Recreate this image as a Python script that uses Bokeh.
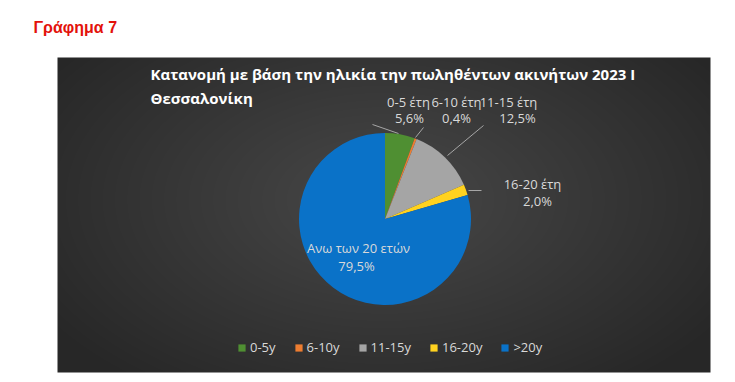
import numpy as np
from bokeh.plotting import figure
from bokeh.models import ColumnDataSource, Legend, LegendItem, Range1d
from bokeh.core.properties import value
from bokeh.embed import file_html
from bokeh.resources import INLINE

# ---- data ----
categories = ["0-5y", "6-10y", "11-15y", "16-20y", ">20y"]
label_names = ["0-5 έτη", "6-10 έτη", "11-15 έτη", "16-20 έτη", "Ανω των 20 ετών"]
shares = [5.6, 0.4, 12.5, 2.0, 79.5]
colors = ["#4f8f32", "#ed7d31", "#a5a5a5", "#ffd21f", "#0a72c8"]
page_title = "Γράφημα 7"
chart_title = ["Κατανομή με βάση την ηλικία την πωληθέντων ακινήτων 2023 Ι", "Θεσσαλονίκη"]

W, H = 735, 382


def X(px):
    return px


def Y(py):
    return H - py


p = figure(width=W, height=H, output_backend="svg", toolbar_location=None,
           x_range=Range1d(0, W), y_range=Range1d(0, H), min_border=0,
           background_fill_color="white", border_fill_color="white", outline_line_color=None)
p.axis.visible = False
p.grid.visible = False

# dark chart area with radial gradient
bx0, by0, bx1, by1 = 57, 57, 710, 372
bw, bh = bx1 - bx0, by1 - by0
yy, xx = np.mgrid[0:bh, 0:bw]
cx, cy = bw * 0.5, bh * 0.45
d = np.sqrt(((xx - cx) / (bw * 0.62)) ** 2 + ((yy - cy) / (bh * 0.75)) ** 2)
d = np.clip(d, 0, 1)
c0, c1 = 0x48, 0x27
g = (c0 + (c1 - c0) * d).astype(np.uint32)
img = (255 << 24) | (g << 16) | (g << 8) | g
img = img[::-1].astype(np.uint32)
p.image_rgba(image=[img.view(np.uint32)], x=X(bx0), y=Y(by1), dw=bw, dh=bh)

# page title
p.text(x=[X(33)], y=[Y(27)], text=[page_title], text_color="#e3120b",
       text_font=value("Liberation Sans"), text_font_style="bold",
       text_font_size="16px", text_baseline="middle", text_align="left")

# chart title
p.text(x=[X(150), X(150)], y=[Y(73), Y(97)], text=chart_title, text_color="white",
       text_font=value("Open Sans"), text_font_style="bold",
       text_font_size="15px", text_baseline="middle", text_align="left")

# pie
vals = np.array(shares)
frac = vals / vals.sum()
cum = np.concatenate([[0], np.cumsum(frac)])
start = np.pi / 2 - cum[:-1] * 2 * np.pi
end = np.pi / 2 - cum[1:] * 2 * np.pi
src = ColumnDataSource(dict(start=start, end=end, color=colors, cat=categories))
pcx, pcy, r = X(384.5), Y(218.5), 86
wr = p.wedge(x=pcx, y=pcy, radius=r, radius_units="screen", start_angle="start",
             end_angle="end", direction="clock", fill_color="color", line_color=None,
             source=src)

# leader lines
lines = [((372, 124), (398, 133)), ((423, 127), (415, 137)),
         ((483, 125), (447, 155)), ((468, 190), (481, 190))]
p.segment(x0=[X(a[0]) for a, b in lines], y0=[Y(a[1]) for a, b in lines],
          x1=[X(b[0]) for a, b in lines], y1=[Y(b[1]) for a, b in lines],
          line_color="#a6a6a6", line_width=1)

# data labels
pct = [("%.1f" % v).replace(".", ",") + "%" for v in shares]
lab_pos = [(408, 101, 409, 117), (456, 101, 456, 117), (508, 101, 517, 117),
           (532, 183, 537, 200), (358, 247, 356, 265)]
lx, ly, lt = [], [], []
for (ax, ay, bx, by), n, pc in zip(lab_pos, label_names, pct):
    lx += [X(ax), X(bx)]
    ly += [Y(ay), Y(by)]
    lt += [n, pc]
p.text(x=lx, y=ly, text=lt, text_color="#d9d9d9", text_font=value("Open Sans"),
       text_font_size="13px", text_baseline="middle", text_align="center")

# legend
items = [LegendItem(label=c, renderers=[wr], index=i) for i, c in enumerate(categories)]
leg = Legend(items=items, orientation="horizontal", location=(X(237), Y(349) - 7),
             background_fill_alpha=0, border_line_color=None, padding=0, margin=0,
             glyph_width=9, glyph_height=9, label_standoff=4, spacing=18,
             label_text_color="#d9d9d9", label_text_font="Open Sans",
             label_text_font_size="13px", label_height=13)
p.add_layout(leg, "center")

open("out.html", "w").write(file_html(p, INLINE))
